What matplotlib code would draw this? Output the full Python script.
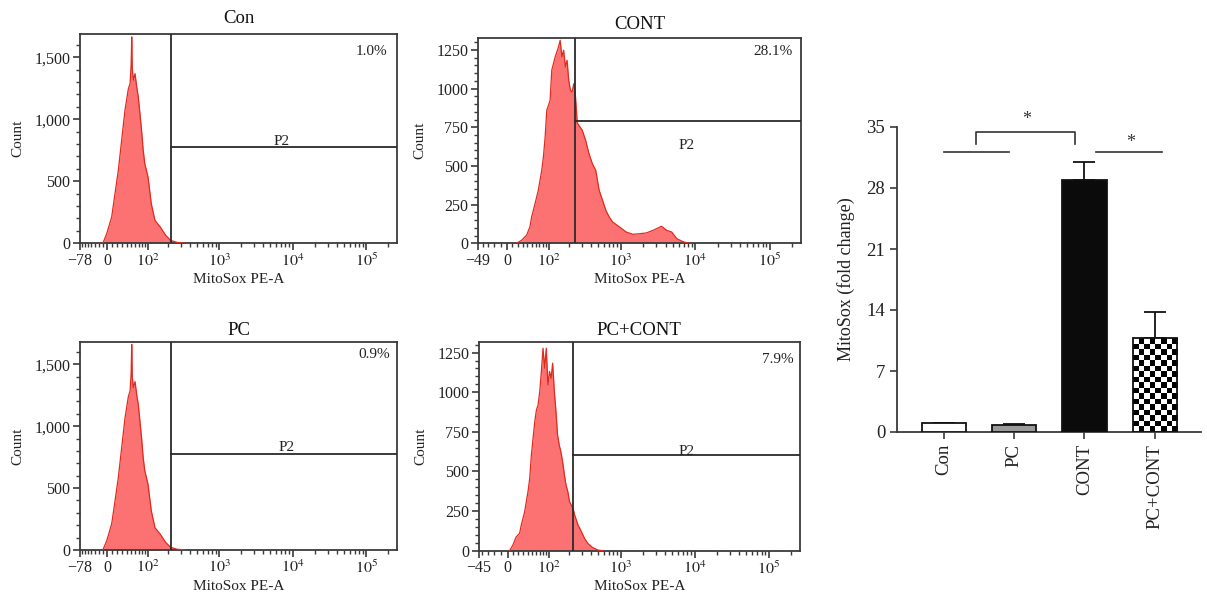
import numpy as np
import matplotlib
matplotlib.use('Agg')
import matplotlib.pyplot as plt
from matplotlib.ticker import FixedLocator, FixedFormatter

plt.rcParams['font.family'] = ['Liberation Serif', 'DejaVu Serif']
plt.rcParams['mathtext.fontset'] = 'stix'

# ---------------- histogram data (MitoSox PE-A value, count) ----------------
con_x = [-10.0, -0.6, 8.8, 15.2, 21.7, 28.5, 35.6, 43.2, 47.2, 49.8, 51.2, 52.6, 55.4,
         59.6, 64.1, 68.6, 73.4, 78.3, 83.4, 88.7, 100.0, 112.4, 127.8, 153, 183, 215, 262, 340]
con_counts = [0, 78, 212, 400, 589, 831, 1073, 1247, 1288, 1440, 1664, 1400, 1315,
              1368, 1261, 1180, 1046, 911, 750, 642, 535, 320, 185, 132, 65, 24, 8, 0]

pc_x = [-10.0, -0.6, 8.8, 15.2, 21.7, 28.5, 35.6, 43.2, 47.2, 49.8, 51.2, 52.6, 55.4,
        59.6, 64.1, 68.6, 73.4, 78.3, 83.4, 88.7, 100.0, 112.4, 127.8, 153, 183, 215, 262, 340]
pc_counts = [0, 75, 210, 395, 585, 825, 1065, 1240, 1285, 1430, 1660, 1395, 1310,
             1360, 1255, 1175, 1040, 905, 745, 640, 530, 318, 180, 128, 62, 22, 7, 0]

cont_x = [17.8, 27.8, 38.5, 46.1, 50.2, 58.6, 67.5, 77.4, 82.6, 88.2, 93.7, 99.6, 105.6,
          112, 126, 141, 149, 158, 167, 177, 187, 197, 208, 220, 232, 245, 259, 272, 303,
          337, 374, 416, 462, 514, 571, 633, 703, 780, 962, 1186, 1461, 1800, 2215, 2730,
          3540, 4140, 4840, 5660, 6970, 8580]
cont_counts = [0, 19, 52, 106, 170, 256, 343, 472, 558, 688, 860, 892, 925,
               1119, 1205, 1269, 1312, 1205, 1248, 1140, 1183, 1054, 989, 978, 1032, 946, 778, 763, 731,
               666, 580, 515, 472, 343, 278, 213, 170, 138, 106, 73, 58, 62, 67, 84,
               110, 84, 73, 30, 9, 0]

pccont_x = [3.7, 9.9, 16.3, 22.8, 26.2, 33.2, 40.6, 44.5, 48.4, 52.5, 56.8, 61.1, 65.6,
            70.3, 75.1, 80.0, 85.4, 90.6, 96.2, 102, 108, 114, 121, 128, 135, 143, 151, 160,
            170, 179, 190, 201, 225, 237, 264, 294, 324, 360, 421, 494, 578]
pccont_counts = [0, 36, 88, 109, 162, 246, 373, 457, 604, 709, 815, 888, 920,
                 1004, 1131, 1278, 1152, 1278, 1046, 1131, 1088, 1183, 1004, 878, 731, 667, 625, 562,
                 478, 415, 373, 309, 267, 225, 162, 120, 78, 46, 19, 4, 0]

panel_titles = ['Con', 'CONT', 'PC', 'PC+CONT']
panel_percent = ['1.0%', '28.1%', '0.9%', '7.9%']
panel_xmin = [-78, -49, -78, -45]
gate_x = [220, 242, 220, 227]
gate_y = [775, 790, 775, 602]

# ---------------- bar chart data ----------------
bar_groups = ['Con', 'PC', 'CONT', 'PC+CONT']
bar_means = [1.0, 0.75, 28.9, 10.8]
bar_err = [0.0, 0.2, 2.1, 3.0]
bar_yticks = [0, 7, 14, 21, 28, 35]

W, H = 1207, 608
fig = plt.figure(figsize=(W / 100, H / 100), dpi=100)

FILL = '#fc7272'
EDGE = '#e02a1e'
SP = '#3a3a3a'
TXT = '#222222'
C = 60.0
XMAX = 262144


def px_axes(l, t, r, b):
    return fig.add_axes([l / W, (H - b) / H, (r - l) / W, (b - t) / H])


def make_scale(xmin, uleft):
    g = uleft / np.arcsinh(xmin / C)

    def fwd(x):
        x = np.asarray(x, dtype=float)
        a = np.arcsinh(x / C)
        return np.where(x >= 0, a, a * g)

    def inv(u):
        u = np.asarray(u, dtype=float)
        return np.where(u >= 0, C * np.sinh(u), C * np.sinh(u / g))
    return fwd, inv


panel_px = [(80, 34.3, 397, 243.3), (478, 38.3, 801, 243.3),
            (80, 341.7, 397, 550), (479, 341.7, 799.7, 550.7)]
panel_uleft = [-0.845, -0.895, -0.845, -0.89]
panel_ymax = [1685, 1325, 1682, 1319]
panel_data = [(con_x, con_counts), (cont_x, cont_counts),
              (pc_x, pc_counts), (pccont_x, pccont_counts)]
title_pad = [8, 7, 5, 5]
p2_pos = [(0.636, 0.486), (0.647, 0.476), (0.652, 0.491), (0.648, 0.474)]
pct_pos = [(0.918, 0.92), (0.912, 0.938), (0.927, 0.94), (0.931, 0.916)]

for i in range(4):
    ax = px_axes(*panel_px[i])
    fwd, inv = make_scale(panel_xmin[i], panel_uleft[i])
    ax.set_xscale('function', functions=(fwd, inv))
    ax.set_xlim(panel_xmin[i], XMAX)
    ax.set_ylim(0, panel_ymax[i])
    xs, ys = panel_data[i]
    ax.fill_between(xs, ys, 0, color=FILL, lw=0, zorder=2)
    ax.plot(xs, ys, color=EDGE, lw=0.9, zorder=3)

    # gate
    ax.axvline(gate_x[i], color='#2a2a2a', lw=1.3, zorder=4)
    ax.plot([gate_x[i], XMAX], [gate_y[i], gate_y[i]], color='#2a2a2a', lw=1.3, zorder=4)
    ax.text(p2_pos[i][0], p2_pos[i][1], 'P2', transform=ax.transAxes,
            ha='center', va='center', fontsize=11, color=TXT)
    ax.text(pct_pos[i][0], pct_pos[i][1], panel_percent[i], transform=ax.transAxes,
            ha='center', va='center', fontsize=11, color=TXT)

    # x ticks
    major = [panel_xmin[i], 0, 100, 1000, 10000, 100000]
    labels = ['\u2212%d' % abs(panel_xmin[i]), '0', r'$10^{2}$', r'$10^{3}$', r'$10^{4}$', r'$10^{5}$']
    ax.xaxis.set_major_locator(FixedLocator(major))
    ax.xaxis.set_major_formatter(FixedFormatter(labels))
    minor = [v for v in range(-70, 0, 10) if v > panel_xmin[i]] + list(range(10, 100, 10))
    for k in (100, 1000, 10000, 100000):
        minor += [m * k for m in range(2, 10) if m * k < XMAX]
    ax.xaxis.set_minor_locator(FixedLocator(minor))

    # y ticks
    if panel_ymax[i] > 1500:
        yt = [0, 500, 1000, 1500]
        ylab = ['0', '500', '1,000', '1,500']
        ymin_step = 100
    else:
        yt = [0, 250, 500, 750, 1000, 1250]
        ylab = [str(v) for v in yt]
        ymin_step = 50
    ax.yaxis.set_major_locator(FixedLocator(yt))
    ax.yaxis.set_major_formatter(FixedFormatter(ylab))
    ax.yaxis.set_minor_locator(FixedLocator(list(range(0, int(panel_ymax[i]), ymin_step))))

    ax.tick_params(which='major', direction='out', length=5, width=1.2, color=SP,
                   labelsize=11.5, labelcolor=TXT, pad=2)
    ax.tick_params(which='minor', direction='out', length=3, width=1.0, color=SP)
    for s in ax.spines.values():
        s.set_linewidth(1.3)
        s.set_color(SP)
    ax.set_xlabel('MitoSox PE-A', fontsize=11, color=TXT, labelpad=2)
    ax.set_ylabel('Count', fontsize=11, color=TXT, labelpad=7)
    ax.set_title(panel_titles[i], fontsize=13.5, color='#111111', pad=title_pad[i])

# ---------------- bar chart ----------------
bx = px_axes(897, 127, 1201, 432)
pos = np.arange(len(bar_groups))
bar_colors = ['white', '#9a9a9a', '#0b0b0b', 'none']
bars = bx.bar(pos, bar_means, width=0.63, color=bar_colors, edgecolor='#111111',
              linewidth=1.3, zorder=3)
bx.errorbar(pos, bar_means, yerr=[np.zeros(len(bar_err)), bar_err], fmt='none',
            ecolor='#111111', elinewidth=1.3, capsize=8, capthick=1.3, zorder=2)

# checkerboard fill for last bar
p = bars.patches[3]
bxl, bw, bh = p.get_x(), p.get_width(), p.get_height()
ncols = 8
nrows = int(round(bh / 0.63))
checker = ((np.indices((nrows, ncols)).sum(axis=0) + nrows) % 2).astype(float)
im = bx.imshow(checker, cmap='gray', extent=(bxl, bxl + bw, 0, nrows * 0.63),
               origin='lower', aspect='auto', interpolation='nearest', zorder=2.5)
im.set_clip_path(p)

bx.set_xlim(-0.67, 3.66)
bx.set_ylim(0, 35)
bx.set_yticks(bar_yticks)
bx.set_xticks(pos)
bx.set_xticklabels(bar_groups, rotation=90)
for s in ('top', 'right'):
    bx.spines[s].set_visible(False)
for s in ('left', 'bottom'):
    bx.spines[s].set_linewidth(1.3)
    bx.spines[s].set_color(SP)
bx.tick_params(direction='out', length=5, width=1.2, color=SP, labelsize=13.5,
               labelcolor=TXT)
bx.set_ylabel('MitoSox (fold change)', fontsize=13, color=TXT, labelpad=8)

# significance annotations
LC = '#333333'
bx.plot([0.0, 0.93], [32.1, 32.1], color=LC, lw=1.2, clip_on=False)
bx.plot([0.455, 0.455, 1.86, 1.86], [33.1, 34.4, 34.4, 33.1], color=LC, lw=1.2, clip_on=False)
bx.text(1.17, 34.9, '*', ha='center', va='bottom', fontsize=13, color=LC)
bx.plot([2.17, 3.11], [32.1, 32.1], color=LC, lw=1.2, clip_on=False)
bx.text(2.66, 32.3, '*', ha='center', va='bottom', fontsize=13, color=LC)

fig.savefig('out.png', dpi=100)
